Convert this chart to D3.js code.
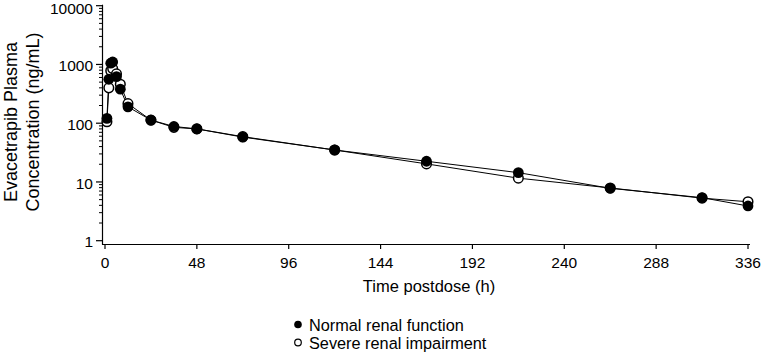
<!DOCTYPE html>
<html>
<head>
<meta charset="utf-8">
<script src="https://cdn.jsdelivr.net/npm/d3@7"></script>
<style>
  body { margin: 0; background: #fff; }
  text { font-family: "Liberation Sans", Arial, sans-serif; fill: #000; }
</style>
</head>
<body>
<script>
// sampling times (h)
const times = [1, 2, 3, 4, 6, 8, 12, 24, 36, 48, 72, 120, 168, 216, 264, 312, 336];
// mean concentrations (ng/mL)
const normalConc = [121, 560, 1050, 1100, 620, 380, 190, 113, 88, 80, 58, 35, 22.5, 14.4, 7.8, 5.4, 3.9];
const severeConc = [106, 400, 780, 850, 690, 460, 215, 113, 85, 80, 59, 35, 20.3, 11.6, 7.9, 5.3, 4.6];
const xTicks = [0, 48, 96, 144, 192, 240, 288, 336];
const yTicks = [1, 10, 100, 1000, 10000];
const legendLabels = ["Normal renal function", "Severe renal impairment"];

const width = 761, height = 352;

const svg = d3.select("body").append("svg")
    .attr("width", width)
    .attr("height", height);

//Scales
const x = d3.scaleLinear().domain([0, 336]).range([105, 748]);
const y = d3.scaleLog().domain([1, 10000]).range([240.7, 5.7]);

//Y axis line and ticks
const yAxis = svg.append("g");
yAxis.append("line")
    .attr("x1", 102.5).attr("x2", 102.5)
    .attr("y1", y(10000) - 1).attr("y2", 244.5)
    .attr("stroke", "#000").attr("stroke-width", 1.2);

let minors = [];
for (let d = 1; d < 10000; d *= 10) {
    for (let m = 2; m <= 9; m++) minors.push(d * m);
}
yAxis.selectAll(".minor")
    .data(minors)
    .enter().append("line")
    .attr("x1", 99).attr("x2", 102.5)
    .attr("y1", d => y(d)).attr("y2", d => y(d))
    .attr("stroke", "#000").attr("stroke-width", 1);

yAxis.selectAll(".major")
    .data(yTicks)
    .enter().append("line")
    .attr("x1", 96).attr("x2", 102.5)
    .attr("y1", d => y(d)).attr("y2", d => y(d))
    .attr("stroke", "#000").attr("stroke-width", 1.2);

yAxis.selectAll(".lab")
    .data(yTicks)
    .enter().append("text")
    .attr("x", 93)
    .attr("y", d => Math.max(y(d) + 1.3, 8.8))  // keep the top label inside the page
    .attr("dy", "0.35em")
    .attr("text-anchor", "end")
    .style("font-size", "15.5px")
    .text(d => d);

//Y title
const yt = svg.append("text")
    .attr("transform", "translate(0,122) rotate(-90)")
    .attr("text-anchor", "middle")
    .style("font-size", "18px");
yt.append("tspan").attr("x", 0).attr("y", 17).text("Evacetrapib Plasma");
yt.append("tspan").attr("x", 0).attr("y", 39).text("Concentration (ng/mL)");

//X axis
const xAxis = svg.append("g");
xAxis.append("line")
    .attr("x1", 102).attr("x2", 750)
    .attr("y1", 244.5).attr("y2", 244.5)
    .attr("stroke", "#000").attr("stroke-width", 1.2);
xAxis.selectAll(".tick")
    .data(xTicks)
    .enter().append("line")
    .attr("x1", d => x(d)).attr("x2", d => x(d))
    .attr("y1", 244.5).attr("y2", 249)
    .attr("stroke", "#000").attr("stroke-width", 1.2);
xAxis.selectAll(".lab")
    .data(xTicks)
    .enter().append("text")
    .attr("x", d => x(d))
    .attr("y", 263)
    .attr("dy", "0.35em")
    .attr("text-anchor", "middle")
    .style("font-size", "15.5px")
    .text(d => d);

svg.append("text")
    .attr("x", 429).attr("y", 286)
    .attr("dy", "0.35em")
    .attr("text-anchor", "middle")
    .style("font-size", "16.5px")
    .text("Time postdose (h)");

//Lines and markers
const line = d3.line()
    .x(d => x(d[0]))
    .y(d => y(d[1]));

const severe = times.map((t, i) => [t, severeConc[i]]);
const normal = times.map((t, i) => [t, normalConc[i]]);

svg.append("path").datum(severe)
    .attr("d", line).attr("fill", "none")
    .attr("stroke", "#000").attr("stroke-width", 1);
svg.append("path").datum(normal)
    .attr("d", line).attr("fill", "none")
    .attr("stroke", "#000").attr("stroke-width", 1);

svg.selectAll(".sev")
    .data(severe)
    .enter().append("circle")
    .attr("cx", d => x(d[0])).attr("cy", d => y(d[1]))
    .attr("r", 4.8)
    .attr("fill", "#fff").attr("stroke", "#000").attr("stroke-width", 1.5);

svg.selectAll(".nor")
    .data(normal)
    .enter().append("circle")
    .attr("cx", d => x(d[0])).attr("cy", d => y(d[1]))
    .attr("r", 5.4)
    .attr("fill", "#000");

//Legend
const legend = svg.append("g");
legend.append("circle")
    .attr("cx", 298).attr("cy", 324.5).attr("r", 3.8).attr("fill", "#000");
legend.append("circle")
    .attr("cx", 298).attr("cy", 342.5).attr("r", 3.3)
    .attr("fill", "#fff").attr("stroke", "#000").attr("stroke-width", 1.2);
legend.selectAll(".ll")
    .data(legendLabels)
    .enter().append("text")
    .attr("x", 309)
    .attr("y", (d, i) => 325 + i * 18)
    .attr("dy", "0.35em")
    .style("font-size", "16.3px")
    .text(d => d);
</script>
</body>
</html>
